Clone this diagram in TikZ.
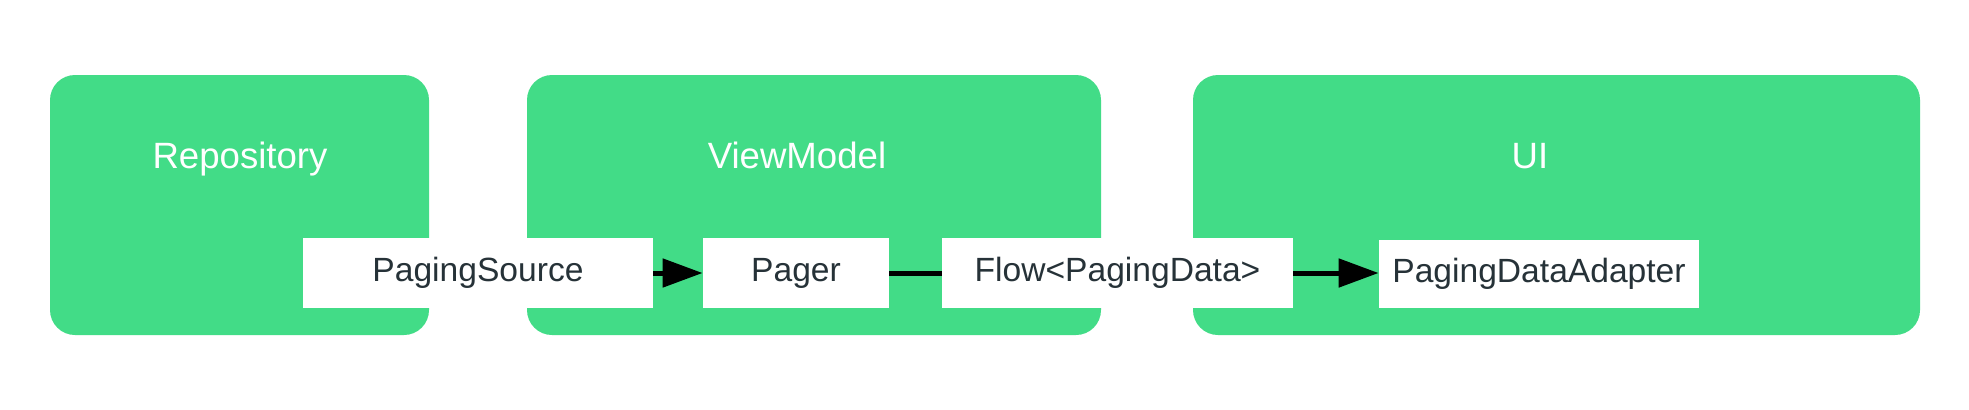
\documentclass[tikz,border=0pt]{standalone}
\usepackage{fontspec}
\setmainfont{Liberation Sans}
\usetikzlibrary{arrows.meta}
\definecolor{pgreen}{HTML}{42DC87}
\definecolor{ptext}{HTML}{263238}
\begin{document}
\begin{tikzpicture}[x=0.5pt,y=-0.5pt,
  layer/.style={fill=pgreen,draw=none,rounded corners=12.5pt,minimum height=130pt,inner sep=0pt},
  title/.style={text=white,font=\fontsize{18.3pt}{22pt}\selectfont,inner sep=0pt,anchor=base},
  item/.style={fill=white,draw=none,minimum height=35pt,inner sep=0pt,text=ptext,font=\fontsize{16.8pt}{20pt}\selectfont},
  conn/.style={line width=2.5pt,draw=black},
  arr/.style={conn,-{Triangle[length=20pt,width=14pt]}}]
\useasboundingbox (0,0) rectangle (1969,409);
\fill[white] (0,0) rectangle (1969,409);
\node[layer,minimum width=189.5pt] (repo) at (239.5,205) {};
\node[layer,minimum width=287pt] (vm) at (814,205) {};
\node[layer,minimum width=363.5pt] (ui) at (1556.5,205) {};
\node[title] (trepo) at (240,168) {Repository};
\node[title] (tvm) at (797,168) {ViewModel};
\node[title] (tui) at (1530,168) {UI};
\node[item,minimum width=175pt] (ps) at (478,273) {PagingSource};
\node[item,minimum width=93pt] (pager) at (796,273) {Pager};
\node[item,minimum width=175.5pt] (flow) at (1117.5,273) {Flow<PagingData>};
\node[item,minimum width=160pt,minimum height=34pt] (pda) at (1539,274) {PagingDataAdapter};
\draw[arr] (ps.east) -- (pager.west);
\draw[conn] (pager.east) -- (flow.west);
\draw[arr] (flow.east) -- (pda.west |- flow.east);
\end{tikzpicture}
\end{document}
